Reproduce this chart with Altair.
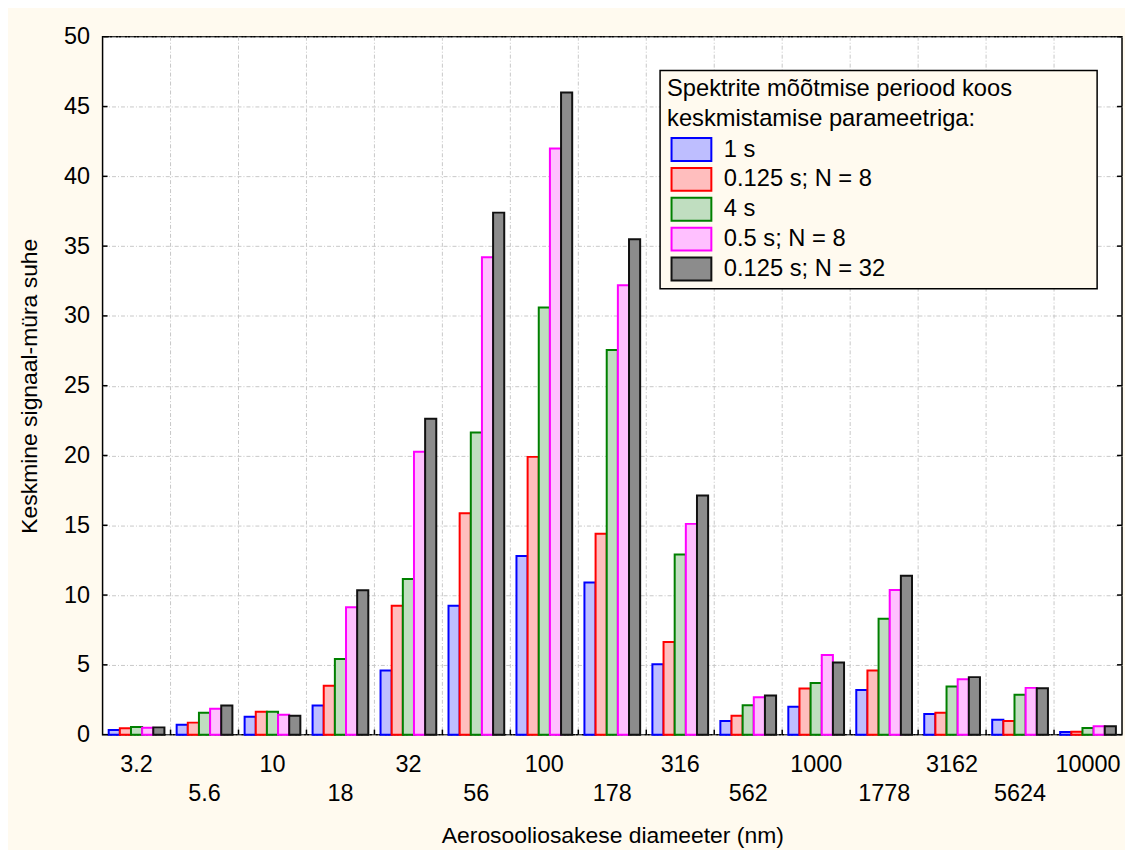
import altair as alt
import pandas as pd

# ---- data ----
sizes = ["3.2", "5.6", "10", "18", "32", "56", "100", "178", "316", "562",
         "1000", "1778", "3162", "5624", "10000"]
series = ["1 s", "0.125 s; N = 8", "4 s", "0.5 s; N = 8", "0.125 s; N = 32"]

v_1s = [0.33, 0.71, 1.28, 2.09, 4.60, 9.23, 12.80, 10.90, 5.04, 0.98, 2.00, 3.19, 1.48, 1.07, 0.19]
v_0125_n8 = [0.45, 0.86, 1.64, 3.50, 9.23, 15.86, 19.90, 14.40, 6.63, 1.36, 3.30, 4.59, 1.57, 0.98, 0.21]
v_4s = [0.55, 1.57, 1.64, 5.42, 11.15, 21.64, 30.60, 27.55, 12.90, 2.10, 3.70, 8.30, 3.45, 2.85, 0.48]
v_05_n8 = [0.50, 1.86, 1.43, 9.13, 20.26, 34.20, 42.00, 32.20, 15.10, 2.67, 5.70, 10.37, 3.97, 3.35, 0.60]
v_0125_n32 = [0.52, 2.09, 1.36, 10.34, 22.64, 37.40, 46.00, 35.50, 17.14, 2.81, 5.16, 11.39, 4.12, 3.33, 0.60]

y_ticks = [0, 5, 10, 15, 20, 25, 30, 35, 40, 45, 50]
second_row_labels = ["5.6", "18", "56", "178", "562", "1778", "5624"]

fills = ["#BEBEFF", "#FFBEBE", "#C0DEC0", "#FFC0FF", "#8C8C8C"]
strokes = ["#0000FF", "#FF0000", "#008000", "#FF00FF", "#111111"]

rows = []
for s, vals in zip(series, [v_1s, v_0125_n8, v_4s, v_05_n8, v_0125_n32]):
    for c, v in zip(sizes, vals):
        rows.append({"size": c, "series": s, "value": v})
df = pd.DataFrame(rows)
bdf = pd.DataFrame({"b": list(range(1, len(sizes)))})
tdf = pd.DataFrame({"value": y_ticks})

W, H = 1024, 701
FONT = "Liberation Sans"
CREAM = "#FFFAEF"
GRID = "#C8C8C8"
DASH = [4, 2, 1, 2]

y_axis = alt.Axis(
    title="Keskmine signaal-müra suhe", values=y_ticks, grid=True,
    gridColor=GRID, gridDash=DASH, gridWidth=1, ticks=False, domain=False,
    labelFont=FONT, labelFontSize=23.5, labelColor="black", labelPadding=13,
    titleFont=FONT, titleFontSize=23, titleFontWeight="normal", titleColor="black",
    titleX=-73, titleY=H / 2, titleAlign="center", titleBaseline="middle",
)

label_list = "[" + ",".join("'%s'" % s for s in second_row_labels) + "]"
x_axis = alt.Axis(
    title="Aerosooliosakese diameeter (nm)", ticks=False, domain=False, grid=False,
    labelAngle=0,
    labelExpr="indexof(%s, datum.label) >= 0 ? ['', datum.label] : datum.label" % label_list,
    labelFont=FONT, labelFontSize=23.5, labelColor="black", labelLineHeight=29,
    labelBaseline="top", labelPadding=18, labelOverlap=False,
    titleFont=FONT, titleFontSize=23, titleFontWeight="normal", titleColor="black",
    titleX=W / 2, titleY=108, titleBaseline="alphabetic",
)

symbol_path = "M-1.739,-1L1.739,-1L1.739,1L-1.739,1Z"
legend = alt.Legend(
    title=["Spektrite mõõtmise periood koos", "keskmistamise parameetriga:"],
    orient="none", legendX=560, legendY=34, padding=7,
    titleFont=FONT, titleFontSize=23.8, titleFontWeight="normal", titleColor="black",
    titleLineHeight=30, titlePadding=6, titleLimit=1000, titleAnchor="start",
    labelFont=FONT, labelFontSize=23.8, labelColor="black", labelLimit=1000,
    labelOffset=20, symbolType=symbol_path, symbolSize=529, symbolStrokeWidth=2,
    symbolOffset=12, rowPadding=-1, symbolOpacity=1,
)

bars = alt.Chart(df).mark_bar(strokeWidth=2).encode(
    x=alt.X("size:N", sort=sizes, scale=alt.Scale(paddingInner=0.18, paddingOuter=0.09), axis=x_axis),
    xOffset=alt.XOffset("series:N", sort=series, scale=alt.Scale(paddingInner=0, paddingOuter=0)),
    y=alt.Y("value:Q", scale=alt.Scale(domain=[0, 50], nice=False), axis=y_axis),
    fill=alt.Fill("series:N", sort=series, scale=alt.Scale(domain=series, range=fills), legend=legend),
    stroke=alt.Stroke("series:N", sort=series, scale=alt.Scale(domain=series, range=strokes), legend=legend),
)

xq = alt.X("b:Q", scale=alt.Scale(domain=[0, len(sizes)], nice=False, zero=False), axis=None)
yq = alt.Y("value:Q", scale=alt.Scale(domain=[0, 50], nice=False), axis=y_axis)

vgrid = alt.Chart(bdf).mark_rule(color=GRID, strokeDash=DASH, strokeWidth=1).encode(x=xq)
xticks = alt.Chart(bdf).mark_rule(color="black", strokeWidth=1.5).encode(
    x=xq, y=alt.value(H - 5), y2=alt.value(H))
lticks = alt.Chart(tdf).mark_rule(color="black", strokeWidth=1.5).encode(
    y=yq, x=alt.value(0), x2=alt.value(5))
rticks = alt.Chart(tdf).mark_rule(color="black", strokeWidth=1.5).encode(
    y=yq, x=alt.value(W - 5), x2=alt.value(W))
box = alt.Chart(pd.DataFrame({"k": [0]})).mark_rect(
    fill=CREAM, stroke="black", strokeWidth=1.5).encode(
    x=alt.value(560), x2=alt.value(999), y=alt.value(34), y2=alt.value(253))

chart = alt.layer(vgrid, bars, xticks, lticks, rticks, box).resolve_scale(
    x="independent"
).properties(
    width=W, height=H,
    autosize=alt.AutoSizeParams(type="none"),
    padding={"left": 95, "top": 27, "right": 3, "bottom": 114},
    background=CREAM,
).configure_view(fill="white", stroke="black", strokeWidth=1.5)

chart.save("out.html", embed_options={"renderer": "svg", "actions": False})
